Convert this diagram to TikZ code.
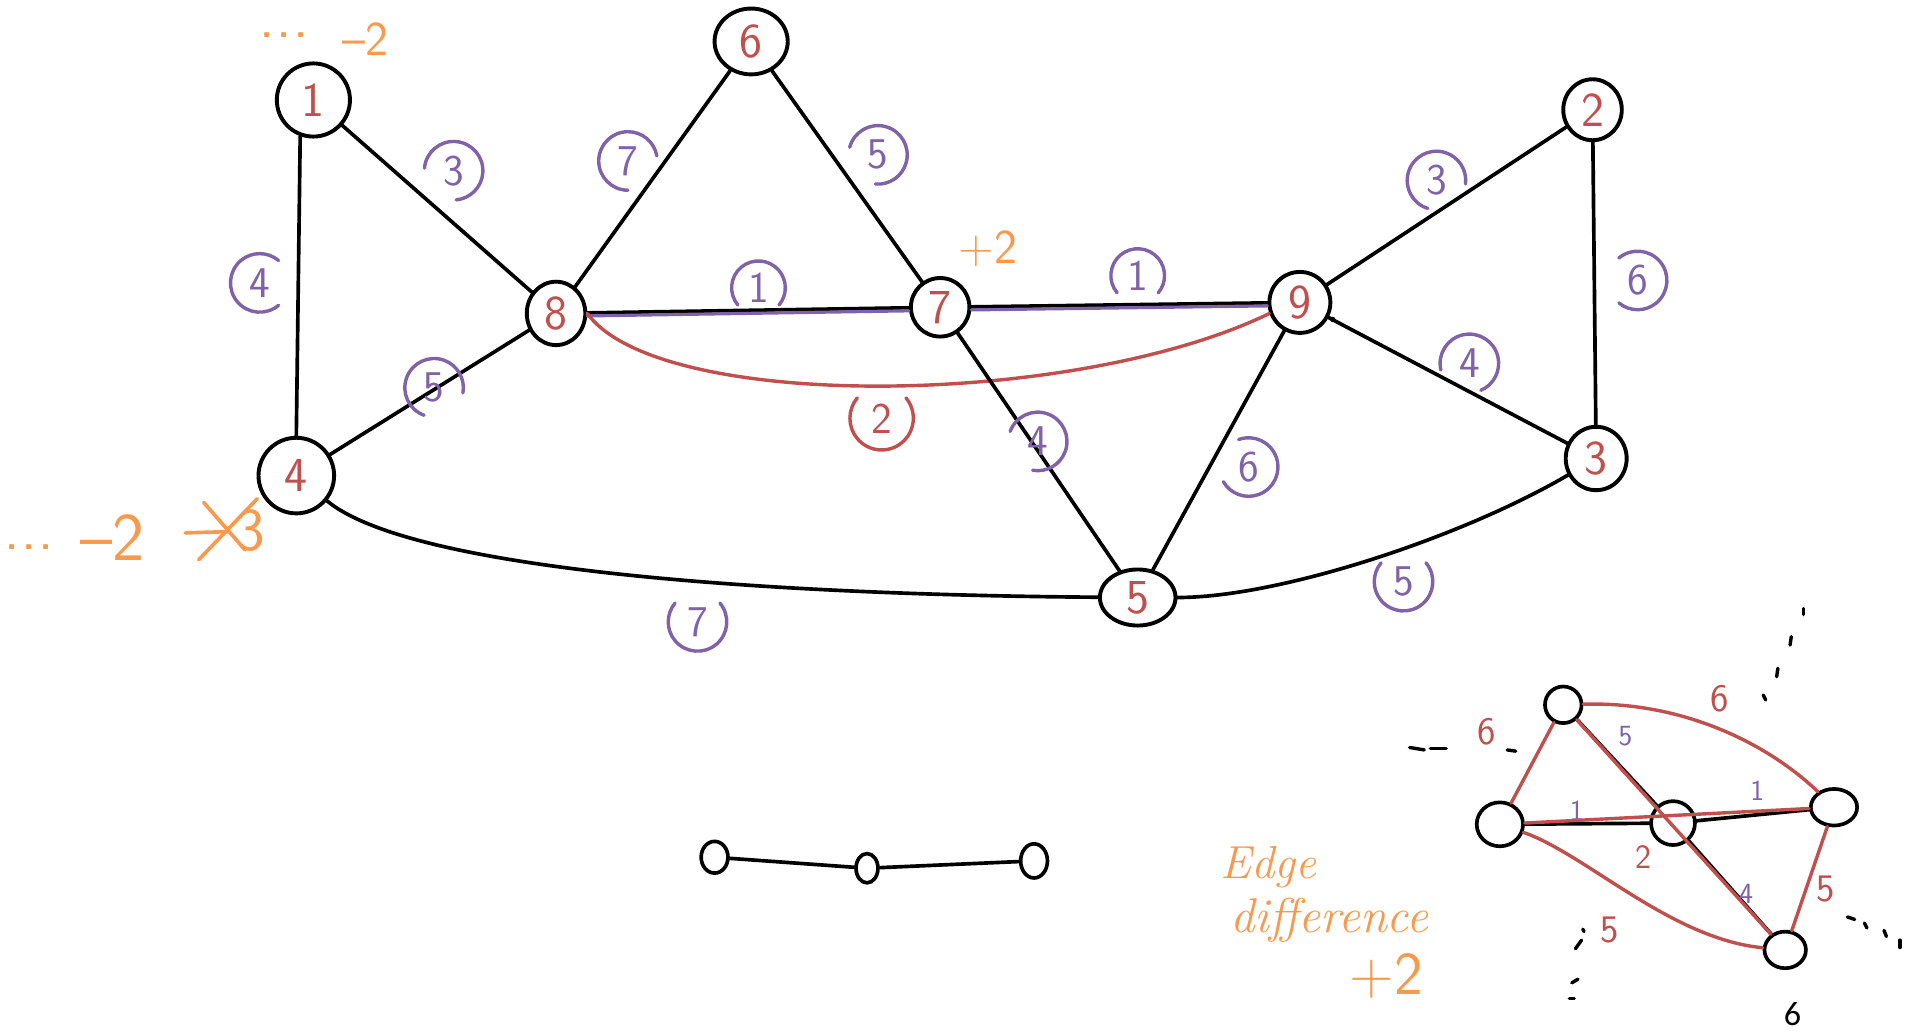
\documentclass[tikz,border=0pt]{standalone}
\usepackage{fontspec}
\newfontfamily\pagefont{Carlito}
\usetikzlibrary{shapes.geometric}
\definecolor{hpurple}{HTML}{7F62A8}
\definecolor{hred}{HTML}{C0504D}
\definecolor{horange}{HTML}{F79A4E}
\newcommand\wlab[6]{\node[wl,text=#6] (#1) at (#2) {#3};
  \draw[wlc,draw=#6] (#1.center) ++(#4+50:#5) arc[start angle=#4+50, delta angle=260, radius=#5];}
\begin{document}
\begin{tikzpicture}[x=1pt,y=-1pt,
  vtx/.style={ellipse,draw=black,line width=3.2pt,inner sep=0pt,text=hred,font=\sffamily\fontsize{40}{40}\selectfont},
  sv/.style={ellipse,draw=black,line width=3pt,inner sep=0pt},
  ed/.style={line width=3pt,black,line cap=round},
  redge/.style={line width=2.8pt,hred,line cap=round},
  pedge/.style={line width=2.6pt,hpurple,line cap=round},
  wl/.style={font=\sffamily\fontsize{36}{36}\selectfont,inner sep=0pt},
  wlc/.style={line width=2.8pt,line cap=round},
  ann/.style={text=horange,inner sep=0pt,font=\sffamily\fontsize{40}{40}\selectfont},
  sl/.style={inner sep=0pt,font=\sffamily\fontsize{24}{24}\selectfont},
  tick/.style={line width=2.8pt,black,line cap=round},
]
\useasboundingbox (0,0) rectangle (1568,846);
% main graph vertices
\node[vtx,minimum width=60,minimum height=60] (n1) at (257,82) {1};
\node[vtx,minimum width=60,minimum height=54] (n6) at (616,34) {6};
\node[vtx,minimum width=48,minimum height=50] (n2) at (1306,90) {2};
\node[vtx,minimum width=48,minimum height=52] (n8) at (456,257) {8};
\node[vtx,minimum width=48,minimum height=48] (n7) at (771,252) {7};
\node[vtx,minimum width=50,minimum height=50] (n9) at (1066,248) {9};
\node[vtx,minimum width=62,minimum height=62] (n4) at (243,390) {4};
\node[vtx,minimum width=50,minimum height=52] (n3) at (1309,376) {3};
\node[vtx,minimum width=62,minimum height=46] (n5) at (933,490) {5};
% edges
\draw[ed] (n1) -- (n8);
\draw[ed] (n1.250) -- (n4.north);
\draw[ed] (n8) -- (n6);
\draw[ed] (n6) -- (n7);
\draw[ed] (n8) -- (n7);
\draw[pedge,transform canvas={yshift=-2.5pt}] (n8) -- (n7);
\draw[ed] (n7) -- (n9);
\draw[pedge,transform canvas={yshift=-2.5pt}] (n7) -- (n9);
\draw[redge] (n8.east) .. controls (540,338) and (880,335) .. (n9.200);
\draw[ed] (n8) -- (n4);
\draw[ed] (n4) .. controls (340,470) and (650,488) .. (n5);
\draw[ed] (n7) -- (n5);
\draw[ed] (n9) -- (n5);
\draw[ed] (n9) -- (n2);
\draw[ed] (n2) -- (n3);
\draw[ed] (n9) -- (n3);
\draw[ed] (n5) .. controls (1050,490) and (1200,440) .. (n3);
\fill (1093,262) circle (2.2);
% weight labels
\wlab{w13}{372,140}{3}{135}{24}{hpurple}
\wlab{w14}{213,232}{4}{0}{24}{hpurple}
\wlab{w86}{515,132}{7}{40}{24}{hpurple}
\wlab{w67}{720,127}{5}{145}{24}{hpurple}
\wlab{w87}{622,236}{1}{90}{22}{hpurple}
\wlab{w79}{933,226}{1}{90}{22}{hpurple}
\wlab{w84}{356,318}{5}{60}{24}{hpurple}
\wlab{w45}{572,510}{7}{270}{24}{hpurple}
\wlab{w75}{851,362}{4}{150}{24}{hpurple}
\wlab{w95}{1024,383}{6}{200}{24}{hpurple}
\wlab{w92}{1178,148}{3}{57}{24}{hpurple}
\wlab{w23}{1343,230}{6}{180}{24}{hpurple}
\wlab{w93}{1205,298}{4}{117}{24}{hpurple}
\wlab{w53}{1151,477}{5}{270}{24}{hpurple}
\wlab{w89}{723,343}{2}{270}{26}{hred}
% orange annotations
\node[ann,font=\sffamily\bfseries\fontsize{30}{30}\selectfont] (o1d) at (233,29) {.\,.\,.};
\node[ann] (o1) at (300,32) {\textendash2};
\node[ann] (o7) at (810,204) {+2};
\node[ann,font=\sffamily\bfseries\fontsize{30}{30}\selectfont] (o4d) at (24,449) {.\,.\,.};
\node[ann,font=\sffamily\fontsize{56}{56}\selectfont] (o4) at (92,441) {\textendash2};
\draw[horange,line width=3pt,line cap=round] (152,437) -- (187,436);
\draw[horange,line width=3pt,line cap=round] (167,412) -- (201,451);
\draw[horange,line width=3pt,line cap=round] (211,409) -- (163,459);
\node[ann,font=\sffamily\fontsize{50}{50}\selectfont] (o43) at (206,435) {3};
\node[ann,font=\itshape\fontsize{38}{38}\selectfont] (e1) at (1040,711) {Edge};
\node[ann,font=\itshape\fontsize{40}{40}\selectfont] (e2) at (1090,755) {difference};
\node[ann,font=\sffamily\fontsize{50}{50}\selectfont] (e3) at (1137,800) {+2};
% bottom middle path
\node[sv,minimum width=22,minimum height=26] (s1) at (586,703) {};
\node[sv,minimum width=18,minimum height=24] (s2) at (711,712) {};
\node[sv,minimum width=22,minimum height=28] (s3) at (848,706) {};
\draw[ed] (s1) -- (s2);
\draw[ed] (s2) -- (s3);
% small graph
\node[sv,minimum width=30,minimum height=30] (a) at (1282,578) {};
\node[sv,minimum width=38,minimum height=36] (b) at (1230,676) {};
\node[sv,minimum width=36,minimum height=36] (c) at (1372,675) {};
\node[sv,minimum width=38,minimum height=30] (d) at (1504,662) {};
\node[sv,minimum width=34,minimum height=30] (e) at (1464,779) {};
\draw[ed] (a) -- (c);
\draw[ed] (b) -- (c);
\draw[ed] (c) -- (d);
\draw[ed] (c) -- (e);
\draw[redge] (a) -- (b);
\draw[redge] (a) .. controls (1380,575) and (1450,610) .. (d);
\draw[redge] (a) -- (e);
\draw[redge] (b) -- (d);
\draw[redge] (b) .. controls (1300,700) and (1370,770) .. (e);
\draw[redge] (d) -- (e);
\node[sl,text=hpurple] (sl1) at (1333,604) {5};
\node[sl,text=hpurple] (sl2) at (1293,665) {1};
\node[sl,text=hpurple] (sl3) at (1441,648) {1};
\node[sl,text=hpurple] (sl4) at (1432,733) {4};
\node[sl,text=hred,font=\sffamily\fontsize{32}{32}\selectfont] (sr1) at (1219,600) {6};
\node[sl,text=hred,font=\sffamily\fontsize{32}{32}\selectfont] (sr2) at (1410,573) {6};
\node[sl,text=hred,font=\sffamily\fontsize{28}{28}\selectfont] (sr3) at (1348,703) {2};
\node[sl,text=hred,font=\sffamily\fontsize{32}{32}\selectfont] (sr4) at (1320,763) {5};
\node[sl,text=hred,font=\sffamily\fontsize{32}{32}\selectfont] (sr5) at (1497,729) {5};
% dashes around small graph
\draw[tick] (1156,613) -- (1168,615);
\draw[tick] (1173,614) -- (1186,614);
\draw[tick] (1236,615) -- (1243,616);
\draw[tick] (1479,499) -- (1479,504);
\draw[tick] (1469,522) -- (1468,529);
\draw[tick] (1458,548) -- (1457,555);
\draw[tick] (1446,570) -- (1448,574);
\draw[tick] (1515,752) -- (1521,754);
\draw[tick] (1529,757) -- (1531,761);
\draw[tick] (1545,763) -- (1547,768);
\draw[tick] (1558,771) -- (1558,777);
\draw[tick] (1298,762) -- (1299,764);
\draw[tick] (1297,771) -- (1292,778);
\draw[tick] (1294,803) -- (1289,806);
\draw[tick] (1287,819) -- (1291,819);
\node[inner sep=0pt,font=\pagefont\fontsize{28}{28}\selectfont] (pg) at (1470,832) {6};
\end{tikzpicture}
\end{document}
